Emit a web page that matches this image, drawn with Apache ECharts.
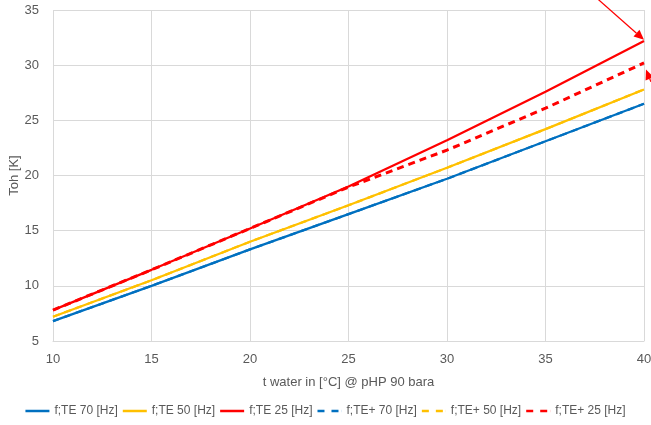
<!DOCTYPE html>
<html><head><meta charset="utf-8">
<script src="https://cdn.jsdelivr.net/npm/echarts@6/dist/echarts.min.js"></script>
<style>html,body{margin:0;padding:0;background:#fff}#c{width:651px;height:425px}</style>
</head><body><div id="c"></div>
<script>
const tWater = [10, 15, 20, 25, 30, 35, 40];
const te70 = [6.8, 10.0, 13.3, 16.5, 19.7, 23.1, 26.5];
const te50 = [7.2, 10.5, 14.0, 17.3, 20.7, 24.2, 27.8];
const te25 = [7.8, 11.45, 15.2, 19.0, 23.2, 27.6, 32.2];
const tep70 = [6.8, 10.0, 13.3, 16.5, 19.7, 23.1, 26.5];
const tep50 = [7.2, 10.5, 14.0, 17.3, 20.7, 24.2, 27.8];
const tep25 = [7.8, 11.45, 15.2, 18.95, 22.3, 26.1, 30.2];
const names = ['f;TE 70 [Hz]','f;TE 50 [Hz]','f;TE 25 [Hz]','f;TE+ 70 [Hz]','f;TE+ 50 [Hz]','f;TE+ 25 [Hz]'];
const colors = ['#0070C0','#FFC000','#FF0000','#0070C0','#FFC000','#FF0000'];
const values = [te70, te50, te25, tep70, tep50, tep25];
// annotation arrows in data space: [start, end]
const arrow1 = [[37.65, 36.0], [40, 32.3]];
const arrow2 = [[40.35, 28.5], [40.1, 29.6]];

const font = 'Liberation Sans';
const solidIcon = 'path://M0,0 L24,0 L24,2.5 L0,2.5 Z';
const dashIcon = 'path://M0,0 L7,0 L7,2.5 L0,2.5 Z M14,0 L21,0 L21,2.5 L14,2.5 Z M23.9,0 L24,0 L24,2.5 L23.9,2.5 Z';
const chart = echarts.init(document.getElementById('c'));
const series = values.map((v, i) => ({
  name: names[i], type: 'line', symbol: 'none', showSymbol: false,
  data: tWater.map((x, j) => [x, v[j]]),
  lineStyle: { color: colors[i], width: i === 5 ? 3 : 2.25, type: i >= 3 ? [7, 5] : 'solid' },
  itemStyle: { color: colors[i] },
  z: 2 + i, animation: false
}));
chart.setOption({
  animation: false,
  textStyle: { fontFamily: font },
  grid: { left: 53, right: 7, top: 10, bottom: 84, containLabel: false, outerBoundsMode: 'none' },
  legend: {
    bottom: 3, left: 'center', itemWidth: 24, itemHeight: 2.5, itemGap: 5,
    textStyle: { color: '#595959', fontSize: 12, fontFamily: font },
    data: names.map((n, i) => ({ name: n, icon: i >= 3 ? dashIcon : solidIcon }))
  },
  xAxis: {
    type: 'value', min: 10, max: 40, interval: 5,
    name: 't water in [°C] @ pHP 90 bara', nameLocation: 'middle', nameGap: 35,
    nameMoveOverlap: false,
    nameTextStyle: { color: '#595959', fontSize: 13, fontFamily: font },
    axisLine: { show: true, lineStyle: { color: '#d9d9d9' } },
    axisTick: { show: false },
    axisLabel: { color: '#595959', fontSize: 13, margin: 12 },
    splitLine: { show: true, lineStyle: { color: '#d9d9d9' } }
  },
  yAxis: {
    type: 'value', min: 5, max: 35, interval: 5,
    name: 'Toh [K]', nameLocation: 'middle', nameGap: 32,
    nameMoveOverlap: false,
    nameTextStyle: { color: '#595959', fontSize: 13, fontFamily: font },
    axisLine: { show: false }, axisTick: { show: false },
    axisLabel: { color: '#595959', fontSize: 13, margin: 14 },
    splitLine: { show: true, lineStyle: { color: '#d9d9d9' } }
  },
  series: series
});
function arrowGraphic(a) {
  const p0 = chart.convertToPixel({ gridIndex: 0 }, a[0]);
  const p1 = chart.convertToPixel({ gridIndex: 0 }, a[1]);
  const ang = Math.atan2(p1[1] - p0[1], p1[0] - p0[0]);
  const L = 10, W = 4.5;
  const bx = p1[0] - L * Math.cos(ang), by = p1[1] - L * Math.sin(ang);
  const nx = -Math.sin(ang) * W, ny = Math.cos(ang) * W;
  return [
    { type: 'line', shape: { x1: p0[0], y1: p0[1], x2: bx, y2: by }, style: { stroke: '#FF0000', lineWidth: 1.25 }, z: 100 },
    { type: 'polygon', shape: { points: [[p1[0], p1[1]], [bx + nx, by + ny], [bx - nx, by - ny]] }, style: { fill: '#FF0000' }, z: 100 }
  ];
}
chart.setOption({ graphic: arrowGraphic(arrow1).concat(arrowGraphic(arrow2)) });
</script></body></html>
